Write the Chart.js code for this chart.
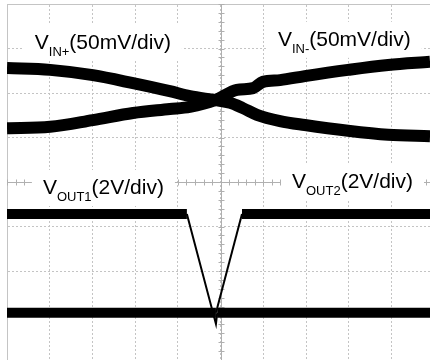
<!DOCTYPE html>
<html>
<head>
<meta charset="utf-8">
<script src="https://cdn.jsdelivr.net/npm/chart.js@4.4.0/dist/chart.umd.min.js"></script>
<style>
  html, body { margin: 0; padding: 0; background: #fff; overflow: hidden; }
  #scope { display: block; }
</style>
</head>
<body>
<canvas id="scope" width="430" height="360"></canvas>
<script>
// positions are in scope divisions, 0 = centre graticule line
const vinPlusTime   = [-5.00, -3.99, -2.99, -2.05, -1.19, -0.72, -0.13, 0.22, 0.52, 0.85, 1.39, 1.97, 2.98, 3.92, 4.90];
const vinPlusLevel  = [2.56, 2.52, 2.40, 2.22, 2.04, 1.93, 1.84, 1.78, 1.66, 1.51, 1.37, 1.28, 1.15, 1.06, 1.03];
const vinMinusTime  = [-5.00, -3.99, -2.99, -2.05, -1.19, -0.72, -0.13, 0.38, 0.76, 0.99, 1.39, 1.97, 2.98, 3.92, 4.90];
const vinMinusLevel = [1.21, 1.24, 1.39, 1.55, 1.64, 1.69, 1.84, 2.07, 2.11, 2.25, 2.29, 2.38, 2.52, 2.63, 2.70];
const vout1Time     = [-5.00, -0.79, -0.11, -0.08, 4.90];
const vout1Level    = [-0.72, -0.72, -3.19, -2.94, -2.94];
const vout2Time     = [-5.00, -0.11, 0.50, 4.90];
const vout2Level    = [-2.94, -2.94, -0.72, -0.72];

// channel captions
const labelSub    = ['IN+', 'IN-', 'OUT1', 'OUT2'];
const labelScale  = ['(50mV/div)', '(50mV/div)', '(2V/div)', '(2V/div)'];
const labelAt     = [[-4.35, 2.99], [1.34, 3.06], [-4.16, -0.27], [1.67, -0.13]];

function pts(xs, ys) {
    return xs.map((v, i) => ({x: v, y: ys[i]}));
}

const scopeDecor = {
    id: 'scopeDecor',
    beforeDatasetsDraw(chart) {
        const {ctx, chartArea: a, scales: {x, y}} = chart;
        const cx = Math.round(x.getPixelForValue(0)) + 0.5;
        const cy = Math.round(y.getPixelForValue(0)) + 0.5;
        ctx.save();
        ctx.strokeStyle = '#b0b0b0';
        ctx.lineWidth = 1;
        ctx.beginPath();
        ctx.moveTo(a.left, cy); ctx.lineTo(a.right, cy);
        ctx.moveTo(cx, a.top); ctx.lineTo(cx, a.bottom);
        for (let i = -25; i <= 25; i++) {
            const px = Math.round(x.getPixelForValue(i / 5)) + 0.5;
            ctx.moveTo(px, cy - 3); ctx.lineTo(px, cy + 3);
        }
        for (let i = -20; i <= 20; i++) {
            const py = Math.round(y.getPixelForValue(i / 5)) + 0.5;
            ctx.moveTo(cx - 3, py); ctx.lineTo(cx + 3, py);
        }
        ctx.stroke();

        // captions with white boxes over the graticule
        const big = '21px "Liberation Sans", Arial, sans-serif';
        const small = '13px "Liberation Sans", Arial, sans-serif';
        ctx.textBaseline = 'alphabetic';
        labelSub.forEach((sub, i) => {
            const left = x.getPixelForValue(labelAt[i][0]);
            const base = y.getPixelForValue(labelAt[i][1]);
            ctx.font = big;
            const wV = ctx.measureText('V').width;
            const wS = ctx.measureText(labelScale[i]).width;
            ctx.font = small;
            const wSub = ctx.measureText(sub).width;
            const w = wV + wSub + wS;
            ctx.fillStyle = '#fff';
            ctx.fillRect(left - 11, base - 24, w + 22, 36);
            ctx.fillStyle = '#000';
            ctx.font = big;
            ctx.fillText('V', left, base);
            ctx.fillText(labelScale[i], left + wV + wSub, base);
            ctx.font = small;
            ctx.fillText(sub, left + wV, base + 7);
        });
        ctx.restore();
    }
};

const bandWidth = (thick) => (c) => c.p0.parsed.y !== c.p1.parsed.y ? 2 : thick;

new Chart(document.getElementById('scope'), {
    type: 'line',
    data: {
        datasets: [
            {label: 'VIN+', data: pts(vinPlusTime, vinPlusLevel), borderColor: '#000', borderWidth: 12,
             cubicInterpolationMode: 'monotone', pointRadius: 0},
            {label: 'VIN-', data: pts(vinMinusTime, vinMinusLevel), borderColor: '#000', borderWidth: 12,
             cubicInterpolationMode: 'monotone', pointRadius: 0},
            {label: 'VOUT1', data: pts(vout1Time, vout1Level), borderColor: '#000', borderWidth: 10,
             segment: {borderWidth: bandWidth(10)}, pointRadius: 0},
            {label: 'VOUT2', data: pts(vout2Time, vout2Level), borderColor: '#000', borderWidth: 10,
             segment: {borderWidth: bandWidth(10)}, pointRadius: 0}
        ]
    },
    options: {
        responsive: false,
        animation: false,
        parsing: false,
        layout: {padding: {left: 7, top: 4, right: 0, bottom: 0}},
        plugins: {legend: {display: false}, tooltip: {enabled: false}},
        scales: {
            x: {
                type: 'linear', position: 'top', min: -5, max: 4.9,
                afterBuildTicks: (s) => { s.ticks = [-5, -4, -3, -2, -1, 0, 1, 2, 3, 4].map(v => ({value: v})); },
                ticks: {display: false},
                grid: {color: '#c4c4c4', drawTicks: false},
                border: {color: '#c4c4c4', dash: [2, 2]}
            },
            y: {
                type: 'linear', min: -4, max: 4,
                afterBuildTicks: (s) => { s.ticks = [-4, -3, -2, -1, 0, 1, 2, 3, 4].map(v => ({value: v})); },
                ticks: {display: false},
                grid: {color: '#c4c4c4', drawTicks: false},
                border: {color: '#c4c4c4', dash: [2, 2]}
            }
        }
    },
    plugins: [scopeDecor]
});
</script>
</body>
</html>
